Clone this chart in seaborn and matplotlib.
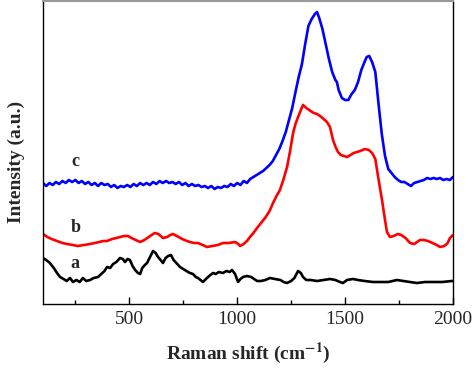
import matplotlib
matplotlib.use("Agg")
import matplotlib.pyplot as plt
import seaborn as sns
import pandas as pd
from matplotlib.ticker import MultipleLocator

# ---- data (arbitrary intensity units) ----
wn_a = [100, 115, 132, 150, 165, 179, 195, 210, 225, 239, 255, 270, 285, 300, 318, 335, 355, 370,
        385, 397, 411, 425, 440, 457, 470, 480, 492, 503, 515, 527, 540, 550, 560, 572, 582, 596,
        610, 622, 633, 645, 656, 668, 680, 693, 705, 718, 735, 750, 765, 781, 795, 808, 818, 830,
        841, 855, 870, 888, 900, 915, 934, 950, 965, 976, 990, 1004, 1015, 1027, 1045, 1065, 1092,
        1110, 1130, 1152, 1175, 1200, 1215, 1231, 1250, 1265, 1282, 1295, 1305, 1320, 1340, 1370,
        1400, 1430, 1455, 1476, 1490, 1509, 1536, 1560, 1590, 1629, 1660, 1700, 1740, 1770, 1800,
        1833, 1870, 1910, 1950, 1995, 2000]
int_a = [46, 44, 41, 36, 31, 27, 25, 23, 26, 22, 24, 22, 26, 23, 24, 26, 27, 30,
         33, 37, 36, 40, 42, 46, 45, 42, 45, 44, 38, 34, 31, 30, 36, 39, 41, 47,
         53, 51, 47, 44, 41, 46, 48, 49, 44, 41, 37, 35, 33, 31, 30, 27, 26, 24,
         22, 25, 28, 31, 30, 32, 31, 33, 32, 34, 30, 22, 25, 27, 28, 27, 23,
         23, 24, 26, 25, 24, 22, 21, 23, 26, 33, 31, 27, 24, 24, 23,
         24, 25, 24, 22, 21, 24, 25, 24, 23, 22, 22, 22, 24, 23, 22,
         21, 22, 22, 22, 23, 23]

wn_b = [100, 120, 140, 165, 190, 211, 239, 260, 290, 318, 340, 360, 380, 397, 420, 440, 457, 475,
        494, 510, 530, 550, 570, 590, 610, 619, 635, 656, 675, 690, 702, 720, 745, 767, 781, 800,
        818, 840, 860, 885, 910, 934, 960, 990, 1005, 1013, 1030, 1045, 1059, 1075, 1092, 1110,
        1129, 1150, 1166, 1182, 1198, 1215, 1231, 1245, 1259, 1270, 1282, 1295, 1305, 1320, 1340,
        1355, 1370, 1390, 1416, 1430, 1444, 1456, 1467, 1480, 1495, 1509, 1525, 1540, 1555, 1570,
        1592, 1610, 1625, 1640, 1648, 1660, 1671, 1685, 1694, 1708, 1725, 1745, 1760, 1780, 1801,
        1820, 1847, 1865, 1884, 1905, 1925, 1940, 1960, 1975, 1986, 2000]
int_b = [70, 67, 65, 63, 61, 60, 59, 58, 59, 60, 61, 62, 63, 63, 65, 66, 67, 68,
         68, 66, 64, 62, 64, 67, 70, 71, 70, 66, 67, 69, 70, 68, 65, 63, 62, 61,
         61, 59, 57, 58, 59, 61, 61, 62, 60, 58, 60, 63, 67, 71, 76, 81,
         86, 93, 101, 108, 114, 125, 137, 153, 171, 180, 187, 194, 199, 196, 193,
         191, 190, 187, 182, 177, 164, 157, 152, 149, 148, 147, 149, 151, 152, 153,
         155, 154, 151, 145, 134, 118, 104, 84, 72, 67, 68, 70, 69, 66, 61,
         60, 64, 64, 63, 61, 59, 57, 58, 61, 66, 69]

wn_c = [100, 115, 130, 145, 160, 175, 190, 205, 220, 235, 250, 265, 280, 295, 310, 325, 340, 355,
        370, 385, 400, 415, 430, 445, 460, 475, 490, 505, 520, 535, 550, 565, 580, 595, 610, 625,
        640, 655, 670, 685, 700, 715, 730, 745, 760, 775, 790, 805, 820, 835, 850, 865, 880, 895,
        910, 925, 940, 955, 970, 985, 1000, 1015, 1030, 1045, 1060, 1075, 1090, 1105, 1120, 1135,
        1150, 1165, 1180, 1195, 1210, 1225, 1240, 1255, 1270, 1285, 1300, 1315, 1330, 1345, 1360,
        1370, 1380, 1395, 1410, 1425, 1440, 1455, 1462, 1470, 1485, 1500, 1515, 1530, 1545, 1560,
        1575, 1590, 1600, 1612, 1625, 1640, 1655, 1670, 1685, 1700, 1715, 1730, 1745, 1760, 1775,
        1790, 1805, 1820, 1835, 1850, 1865, 1880, 1895, 1910, 1925, 1940, 1955, 1970, 1985, 2000]
int_c = [121, 118, 121, 119, 122, 120, 123, 121, 124, 122, 124, 121, 123, 120, 122, 119, 121, 118,
         121, 119, 120, 117, 119, 116, 118, 117, 119, 117, 120, 118, 121, 119, 121, 119, 122, 120,
         123, 121, 123, 121, 122, 120, 122, 119, 121, 118, 120, 118, 119, 117, 118, 116, 118, 115,
         117, 116, 118, 117, 120, 118, 121, 119, 123, 121, 125, 127, 129, 131, 133, 136,
         139, 143, 149, 155, 163, 172, 184, 196, 212, 227, 240, 260, 278, 285, 290,
         292, 286, 275, 260, 245, 232, 224, 222, 214, 206, 204, 204, 210, 214, 222,
         234, 242, 247, 248, 242, 232, 200, 170, 148, 135, 131, 127, 124, 122, 122,
         120, 118, 121, 122, 123, 124, 126, 125, 126, 125, 126, 124, 125, 124, 127]

curve_labels = ["a", "b", "c"]
label_pos_x = [250, 250, 250]
label_pos_y = [40, 76, 142]
colors = ["black", "red", "blue"]

xticks_major = [500, 1000, 1500, 2000]

# ---- plotting ----
sns.set_theme(style="white")
plt.rcParams["font.family"] = ["Liberation Serif", "DejaVu Serif"]
plt.rcParams["mathtext.fontset"] = "stix"

fig = plt.figure(figsize=(4.74, 3.70), dpi=100)
ax = fig.add_axes([43 / 474, 66 / 370, 410 / 474, 303 / 370])

frames = []
for lab, wn, iv in zip(curve_labels, [wn_a, wn_b, wn_c], [int_a, int_b, int_c]):
    frames.append(pd.DataFrame({"wn": wn, "I": iv, "curve": lab}))
df = pd.concat(frames, ignore_index=True)

sns.lineplot(data=df, x="wn", y="I", hue="curve", palette=dict(zip(curve_labels, colors)),
             linewidth=1.9, legend=False, ax=ax, estimator=None, sort=False)

for lab, x, y in zip(curve_labels, label_pos_x, label_pos_y):
    ax.text(x, y, lab, fontsize=13, fontweight="bold", ha="center", va="center")

ax.set_xlim(100, 2000)
ax.set_ylim(0, 303)
ax.set_xticks(xticks_major)
ax.xaxis.set_minor_locator(MultipleLocator(250))
ax.set_yticks([])
ax.tick_params(axis="x", which="major", direction="in", length=5, width=1, labelsize=14,
               color="black", pad=5, bottom=True, top=False)
ax.tick_params(axis="x", which="minor", direction="in", length=3, width=1, color="black",
               bottom=True, top=False)

for side in ["left", "bottom", "right"]:
    ax.spines[side].set_color("black")
    ax.spines[side].set_linewidth(1.0)
ax.spines["top"].set_color("#999999")
ax.spines["top"].set_linewidth(1.5)

ax.set_xlabel(r"Raman shift (cm$^{\mathbf{-1}}$)", fontsize=14, fontweight="bold", labelpad=9)
ax.set_ylabel("Intensity (a.u.)", fontsize=14, fontweight="bold")
ax.yaxis.set_label_coords(-0.045, 0.47)

fig.savefig("out.png", dpi=100)
